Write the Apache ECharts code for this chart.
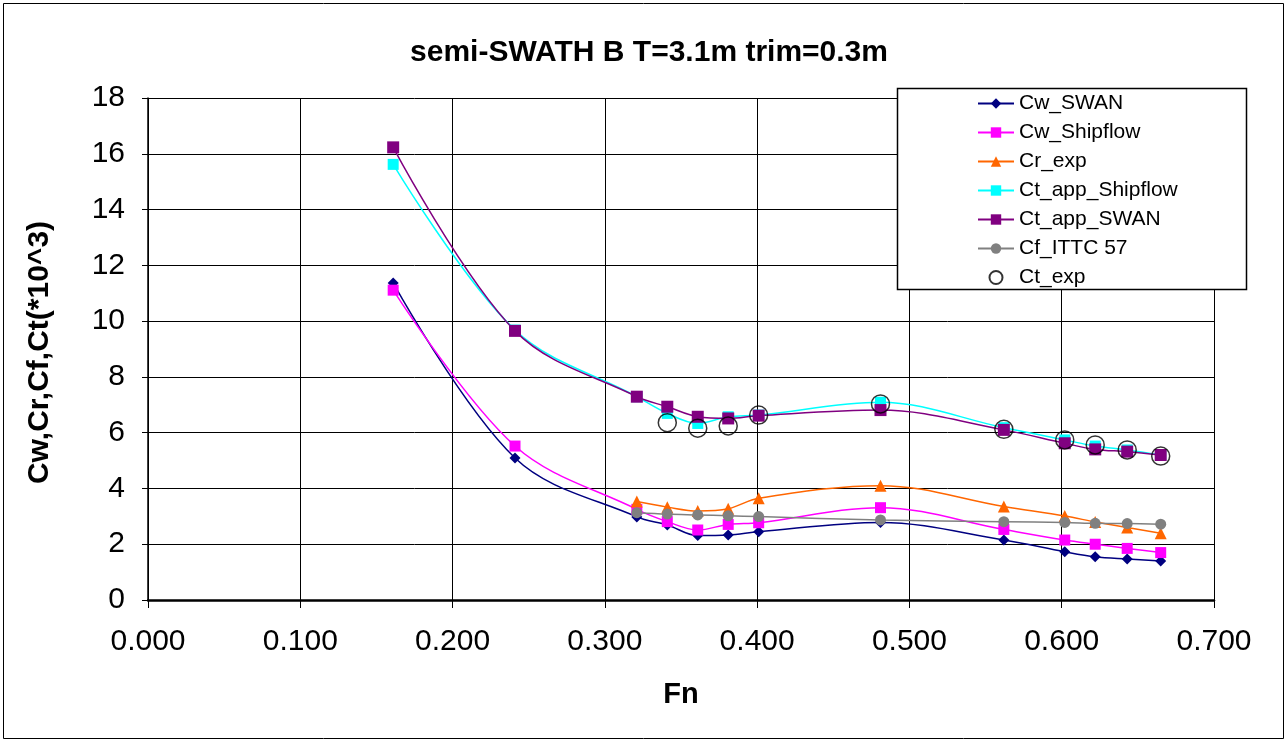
<!DOCTYPE html>
<html>
<head>
<meta charset="utf-8">
<script src="https://cdn.jsdelivr.net/npm/echarts@6/dist/echarts.min.js"></script>
<style>
  html, body { margin: 0; padding: 0; background: #fff; }
  #chart { width: 1288px; height: 742px; }
</style>
</head>
<body>
<div id="chart"></div>
<script>
// Froude numbers of the test conditions
const fn = [0.161, 0.241, 0.321, 0.341, 0.361, 0.381, 0.401, 0.481, 0.562, 0.602, 0.622, 0.643, 0.665];

// Resistance coefficients (x10^3); null where no value exists
const cwSwan      = [11.37, 5.09, 2.98, 2.69, 2.31, 2.33, 2.45, 2.78, 2.15, 1.73, 1.55, 1.47, 1.40];
const cwShipflow  = [11.11, 5.52, 3.25, 2.81, 2.51, 2.71, 2.77, 3.31, 2.53, 2.15, 2.00, 1.85, 1.70];
const crExp       = [null, null, 3.53, 3.33, 3.19, 3.27, 3.65, 4.10, 3.35, 3.01, 2.80, 2.60, 2.39];
const ctAppShip   = [15.62, 9.68, 7.29, 6.69, 6.33, 6.57, 6.63, 7.09, 6.18, 5.74, 5.52, 5.38, 5.20];
const ctAppSwan   = [16.23, 9.65, 7.29, 6.93, 6.57, 6.51, 6.61, 6.81, 6.10, 5.62, 5.40, 5.32, 5.20];
const cfIttc      = [null, null, 3.13, 3.08, 3.05, 3.02, 2.99, 2.87, 2.81, 2.78, 2.75, 2.74, 2.72];
const ctExp       = [null, null, null, 6.36, 6.16, 6.24, 6.63, 7.03, 6.12, 5.74, 5.56, 5.38, 5.16];

const seriesNames = ['Cw_SWAN', 'Cw_Shipflow', 'Cr_exp', 'Ct_app_Shipflow', 'Ct_app_SWAN', 'Cf_ITTC 57', 'Ct_exp'];

function pairs(vals) {
  const out = [];
  vals.forEach((v, i) => { if (v !== null) out.push([fn[i], v]); });
  return out;
}

const FONT = '"Liberation Sans", Arial, sans-serif';

function lineSeries(name, vals, color, symbol, size) {
  return {
    name: name,
    type: 'line',
    data: pairs(vals),
    smooth: 0.35,
    symbol: symbol,
    symbolSize: size,
    showAllSymbol: true,
    lineStyle: { color: color, width: 1.5 },
    itemStyle: { color: color },
    emphasis: { disabled: true },
    z: 3
  };
}

const chart = echarts.init(document.getElementById('chart'), null, { renderer: 'canvas' });

chart.setOption({
  animation: false,
  backgroundColor: '#fff',
  title: {
    text: 'semi-SWATH B T=3.1m trim=0.3m',
    left: 644,
    top: 33,
    textAlign: 'center',
    textStyle: { fontFamily: FONT, fontSize: 30, fontWeight: 'bold', color: '#000' }
  },
  graphic: [
    {
      type: 'rect',
      shape: { x: 3.5, y: 3.5, width: 1280, height: 735 },
      style: { fill: 'none', stroke: '#000', lineWidth: 1 },
      z: 0
    },
    {
      type: 'rect',
      shape: { x: 897.5, y: 88.5, width: 349, height: 201 },
      style: { fill: '#fff', stroke: '#000', lineWidth: 1.5 },
      z: 50
    }
  ],
  legend: {
    orient: 'vertical',
    left: 972,
    top: 88,
    itemWidth: 36,
    itemHeight: 13,
    itemGap: 8,
    z: 60,
    textStyle: { fontFamily: FONT, fontSize: 21, color: '#000' },
    data: seriesNames
  },
  grid: { left: 148, right: 74, top: 98, bottom: 142, containLabel: false },
  xAxis: {
    type: 'value',
    min: 0, max: 0.7, interval: 0.1,
    name: 'Fn',
    nameLocation: 'middle',
    nameGap: 80,
    nameTextStyle: { fontFamily: FONT, fontSize: 29, fontWeight: 'bold', color: '#000' },
    axisLine: { show: true, onZero: false, lineStyle: { color: '#000', width: 2.5 } },
    axisTick: { show: true, inside: false, length: 8, lineStyle: { color: '#000' } },
    axisLabel: {
      margin: 27,
      fontFamily: FONT, fontSize: 30, color: '#000',
      formatter: v => v.toFixed(3)
    },
    splitLine: { show: true, lineStyle: { color: '#000', width: 1 } }
  },
  yAxis: {
    type: 'value',
    min: 0, max: 18, interval: 2,
    name: 'Cw,Cr,Cf,Ct(*10^3)',
    nameLocation: 'middle',
    nameGap: 93,
    nameRotate: 90,
    nameTextStyle: { fontFamily: FONT, fontSize: 30, fontWeight: 'bold', color: '#000', padding: [0, 7, 0, 0] },
    axisLine: { show: true, lineStyle: { color: '#000', width: 1.5 } },
    axisTick: { show: true, inside: false, length: 6, lineStyle: { color: '#000' } },
    axisLabel: { margin: 23, fontFamily: FONT, fontSize: 30, color: '#000' },
    splitLine: { show: true, lineStyle: { color: '#000', width: 1 } }
  },
  series: [
    lineSeries('Cw_SWAN', cwSwan, '#000080', 'diamond', 11),
    lineSeries('Cw_Shipflow', cwShipflow, '#FF00FF', 'rect', 11),
    lineSeries('Cr_exp', crExp, '#FF6600', 'triangle', 12),
    lineSeries('Ct_app_Shipflow', ctAppShip, '#00FFFF', 'rect', 11),
    lineSeries('Ct_app_SWAN', ctAppSwan, '#800080', 'rect', 12),
    lineSeries('Cf_ITTC 57', cfIttc, '#808080', 'circle', 11),
    {
      name: 'Ct_exp',
      type: 'scatter',
      data: pairs(ctExp),
      symbol: 'circle',
      symbolSize: 18,
      itemStyle: { color: 'rgba(255,255,255,0)', borderColor: '#000', borderWidth: 1.5 },
      emphasis: { disabled: true },
      z: 4
    }
  ]
});
</script>
</body>
</html>
